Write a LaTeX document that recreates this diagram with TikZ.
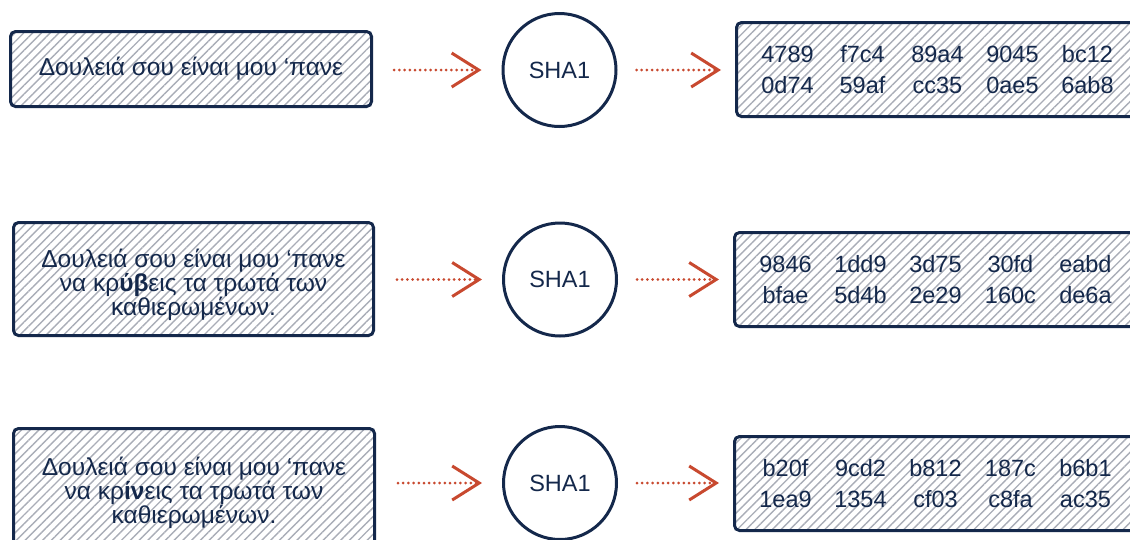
\documentclass[tikz,border=0pt]{standalone}
\usepackage{fontspec}
\setmainfont{Liberation Sans}
\usetikzlibrary{arrows.meta,patterns.meta}
\definecolor{navy}{HTML}{14284B}
\definecolor{rust}{HTML}{C8492F}
\definecolor{hatch}{HTML}{A9ADB7}
\newcommand\hw[1]{\makebox[75pt]{#1}}
\newcommand\topstrut{\rule{0pt}{30pt}}
\tikzset{
  hbox/.style={draw=navy, line width=3pt, rounded corners=5pt,
    pattern={Lines[angle=45,distance=6.2pt,line width=1.4pt]}, pattern color=hatch,
    inner sep=0pt, align=center, text=navy, font=\fontsize{24.5}{24}\selectfont},
  hashbox/.style={hbox, font=\fontsize{23.5}{31}\selectfont, minimum width=402pt, minimum height=94pt},
  hashfn/.style={draw=navy, line width=3pt, circle, minimum size=113pt, inner sep=0pt,
    text=navy, font=\fontsize{23.5}{24}\selectfont},
  arr/.style={rust, line width=3pt, line cap=round, dash pattern=on 0pt off 5.2pt,
    -{Straight Barb[length=27pt,width=34pt]}},
}
\begin{document}
\begin{tikzpicture}[x=1pt,y=-1pt]
\useasboundingbox (0,0) rectangle (1130,539);
\clip (0,0) rectangle (1130,539);
% row 1
\node[hbox, minimum width=361pt, minimum height=75pt] (L1) at (191,69) {Δουλειά σου είναι μου ‘πανε};
\node[hashfn] (C1) at (559.5,70) {SHA1};
\node[hashbox] (R1) at (937.5,69.5) {\hw{4789}\hw{f7c4}\hw{89a4}\hw{9045}\hw{bc12}\\\hw{0d74}\hw{59af}\hw{cc35}\hw{0ae5}\hw{6ab8}};
% row 2
\node[hbox, minimum width=360pt, minimum height=113pt] (L2) at (193.5,279) {\topstrut Δουλειά σου είναι μου ‘πανε\\να κρ\textbf{ύβ}εις τα τρωτά των\\καθιερωμένων.};
\node[hashfn] (C2) at (560,279.5) {SHA1};
\node[hashbox] (R2) at (935.5,279.5) {\hw{9846}\hw{1dd9}\hw{3d75}\hw{30fd}\hw{eabd}\\\hw{bfae}\hw{5d4b}\hw{2e29}\hw{160c}\hw{de6a}};
% row 3
\node[hbox, minimum width=361pt, minimum height=117pt] (L3) at (194,487) {\topstrut Δουλειά σου είναι μου ‘πανε\\να κρ\textbf{ίν}εις τα τρωτά των\\καθιερωμένων.};
\node[hashfn] (C3) at (560,483) {SHA1};
\node[hashbox] (R3) at (935.5,483.5) {\hw{b20f}\hw{9cd2}\hw{b812}\hw{187c}\hw{b6b1}\\\hw{1ea9}\hw{1354}\hw{cf03}\hw{c8fa}\hw{ac35}};
% arrows
\draw[arr, shorten <=22pt, shorten >=20pt] (L1.east |- C1.west) -- (C1.west);
\draw[arr, shorten <=19pt, shorten >=14pt] (C1.east) -- (R1.west |- C1.east);
\draw[arr, shorten <=22pt, shorten >=20pt] (L2.east |- C2.west) -- (C2.west);
\draw[arr, shorten <=19pt, shorten >=14pt] (C2.east) -- (R2.west |- C2.east);
\draw[arr, shorten <=22pt, shorten >=20pt] (L3.east |- C3.west) -- (C3.west);
\draw[arr, shorten <=19pt, shorten >=14pt] (C3.east) -- (R3.west |- C3.east);
\end{tikzpicture}
\end{document}
